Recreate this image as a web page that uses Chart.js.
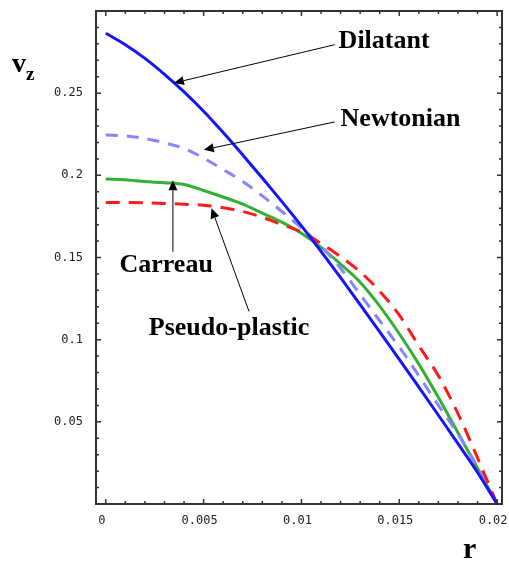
<!DOCTYPE html>
<html>
<head>
<meta charset="utf-8">
<title>Velocity profiles</title>
<script src="https://cdn.jsdelivr.net/npm/chart.js@4.4.0/dist/chart.umd.min.js"></script>
<style>
  html, body { margin: 0; padding: 0; background: #fff; }
  #wrap { width: 509px; height: 565px; }
</style>
</head>
<body>
<div id="wrap"><canvas id="profiles" width="509" height="565"></canvas></div>
<script>
// radius r and axial velocity v_z
const radius = [0, 0.001, 0.002, 0.003, 0.004, 0.005, 0.006, 0.007, 0.008, 0.009, 0.010,
                0.011, 0.012, 0.013, 0.014, 0.015, 0.016, 0.017, 0.018, 0.019, 0.020];
const dilatant = [0.2865, 0.2795, 0.2712, 0.2615, 0.2508, 0.2390, 0.2260, 0.2124, 0.1984, 0.1840, 0.1692,
                  0.1537, 0.1377, 0.1213, 0.1047, 0.0880, 0.0711, 0.0540, 0.0367, 0.0192, 0];
const newtonian = [0.2246, 0.2240, 0.2224, 0.2198, 0.2163, 0.2105, 0.2035, 0.1962, 0.1875, 0.1780, 0.1680,
                   0.1570, 0.1435, 0.1275, 0.1115, 0.0955, 0.0780, 0.0600, 0.0425, 0.0225, 0];
const carreau = [0.1977, 0.1973, 0.1962, 0.1955, 0.1944, 0.1908, 0.1868, 0.1825, 0.1770, 0.1715, 0.1647,
                 0.1562, 0.1460, 0.1350, 0.1204, 0.1036, 0.0851, 0.0648, 0.0434, 0.0218, 0];
const pseudoPlastic = [0.1835, 0.1835, 0.1833, 0.1829, 0.1824, 0.1818, 0.1803, 0.1780, 0.1745, 0.1700, 0.1655,
                       0.1585, 0.1505, 0.1413, 0.1295, 0.1149, 0.0963, 0.0780, 0.0550, 0.0280, 0];

const xTicks = [0, 0.005, 0.01, 0.015, 0.02];
const xTickLabels = ['0', '0.005', '0.01', '0.015', '0.02'];
const yTicks = [0.05, 0.1, 0.15, 0.2, 0.25];
const yTickLabels = ['0.05', '0.1', '0.15', '0.2', '0.25'];

// curve labels: text anchor, arrow tail and arrow head (data units)
const notes = [
  { text: 'Dilatant',       at: [0.0119, 0.2775], tail: [0.0117, 0.2795], head: [0.00348, 0.2562] },
  { text: 'Newtonian',      at: [0.0120, 0.2301], tail: [0.0117, 0.2325], head: [0.00501, 0.2155] },
  { text: 'Carreau',        at: [0.0007, 0.1413], tail: [0.00343, 0.1535], head: [0.00343, 0.1970] },
  { text: 'Pseudo-plastic', at: [0.0022, 0.1030], tail: [0.00732, 0.1172], head: [0.00540, 0.1800] }
];

const pts = vals => vals.map((v, i) => ({ x: radius[i], y: v }));

function arrow(ctx, x0, y0, x1, y1) {
  const ang = Math.atan2(y1 - y0, x1 - x0);
  const len = 10, half = 4.5;
  const bx = x1 - len * Math.cos(ang), by = y1 - len * Math.sin(ang);
  ctx.beginPath();
  ctx.moveTo(x0, y0);
  ctx.lineTo(bx, by);
  ctx.stroke();
  ctx.beginPath();
  ctx.moveTo(x1, y1);
  ctx.lineTo(bx + half * Math.sin(ang), by - half * Math.cos(ang));
  ctx.lineTo(bx - half * Math.sin(ang), by + half * Math.cos(ang));
  ctx.closePath();
  ctx.fill();
}

const framePlugin = {
  id: 'frame',
  afterDraw(chart) {
    const { ctx, chartArea: a, scales: { x, y } } = chart;
    ctx.save();
    ctx.strokeStyle = '#333';
    ctx.lineWidth = 1.5;
    // inward tick marks on all four sides
    for (let i = 0; i <= 20; i++) {
      const px = x.getPixelForValue(i / 1000);
      const len = i % 5 === 0 ? 5 : 3;
      ctx.beginPath();
      ctx.moveTo(px, a.bottom); ctx.lineTo(px, a.bottom - len);
      ctx.moveTo(px, a.top); ctx.lineTo(px, a.top + len);
      ctx.stroke();
    }
    for (let i = 1; i < 30; i++) {
      const py = y.getPixelForValue(i / 100);
      const len = i % 5 === 0 ? 5 : 3;
      ctx.beginPath();
      ctx.moveTo(a.left, py); ctx.lineTo(a.left + len, py);
      ctx.moveTo(a.right, py); ctx.lineTo(a.right - len, py);
      ctx.stroke();
    }
    ctx.lineWidth = 2;
    ctx.strokeRect(a.left, a.top, a.right - a.left, a.bottom - a.top);

    // arrows and labels
    ctx.strokeStyle = '#000';
    ctx.fillStyle = '#000';
    ctx.lineWidth = 1;
    ctx.font = 'bold 26px "Liberation Serif", "Times New Roman", serif';
    ctx.textBaseline = 'alphabetic';
    notes.forEach(n => {
      arrow(ctx, x.getPixelForValue(n.tail[0]), y.getPixelForValue(n.tail[1]),
                 x.getPixelForValue(n.head[0]), y.getPixelForValue(n.head[1]));
      ctx.fillText(n.text, x.getPixelForValue(n.at[0]), y.getPixelForValue(n.at[1]));
    });

    // axis titles
    ctx.font = 'bold 28px "Liberation Serif", serif';
    ctx.fillText('v', 12, 72);
    ctx.font = 'bold 19px "Liberation Serif", serif';
    ctx.fillText('z', 26, 80);
    ctx.font = 'bold 30px "Liberation Serif", serif';
    ctx.fillText('r', 463, 558);
    ctx.restore();
  }
};

const tickFont = { family: '"DejaVu Sans Mono", monospace', size: 12 };

new Chart(document.getElementById('profiles'), {
  type: 'line',
  data: {
    datasets: [
      { label: 'Dilatant', data: pts(dilatant), borderColor: '#1414ff', borderWidth: 3 },
      { label: 'Pseudo-plastic', data: pts(pseudoPlastic), borderColor: '#ff1a1a', borderWidth: 3, borderDash: [14, 9] },
      { label: 'Newtonian', data: pts(newtonian), borderColor: '#8585ff', borderWidth: 3, borderDash: [12, 9] },
      { label: 'Carreau', data: pts(carreau), borderColor: '#33b033', borderWidth: 3 }
    ]
  },
  options: {
    responsive: false,
    animation: false,
    devicePixelRatio: 1,
    layout: { padding: { top: 11, right: 7, left: 0, bottom: 0 } },
    elements: {
      point: { radius: 0 },
      line: { cubicInterpolationMode: 'monotone', fill: false }
    },
    plugins: { legend: { display: false }, tooltip: { enabled: false } },
    scales: {
      x: {
        type: 'linear',
        min: -0.0005,
        max: 0.02025,
        grid: { display: false, drawTicks: false },
        border: { display: false },
        afterBuildTicks: s => { s.ticks = xTicks.map(v => ({ value: v })); },
        afterFit: s => { s.height = 61; s.paddingLeft = 0; s.paddingRight = 0; },
        ticks: {
          autoSkip: false, maxRotation: 0, padding: 10, labelOffset: -4,
          color: '#222', font: tickFont,
          callback: (v, i) => xTickLabels[i]
        }
      },
      y: {
        min: 0,
        max: 0.3,
        grid: { display: false, drawTicks: false },
        border: { display: false },
        afterBuildTicks: s => { s.ticks = yTicks.map(v => ({ value: v })); },
        afterFit: s => { s.width = 96; s.paddingTop = 0; s.paddingBottom = 0; },
        ticks: {
          autoSkip: false, padding: 13,
          color: '#222', font: tickFont,
          callback: (v, i) => yTickLabels[i]
        }
      }
    }
  },
  plugins: [framePlugin]
});
</script>
</body>
</html>
